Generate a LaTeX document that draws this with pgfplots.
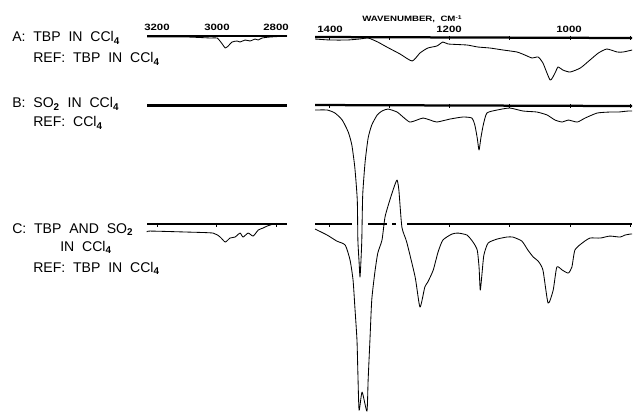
\documentclass[border=0pt]{standalone}
\usepackage{fontspec}
\setmainfont{Liberation Sans}[WordSpace=2]
\usepackage{pgfplots}
\pgfplotsset{compat=1.18}

% y is the pen position (rows, downwards); x is wavenumber in cm^-1
\pgfplotsset{spec/.style={scale only axis, axis lines=none, clip=false,
  x dir=reverse, y dir=reverse, ymin=0, ymax=413, height=10.325cm,
  anchor=north west}}
\tikzset{base/.style={black, line width=1.6pt},
  trace/.style={black, line width=0.6pt, smooth, tension=0.35, line join=round},
  tk/.style={black, only marks, mark=|, mark size=1.6pt, mark options={line width=0.6pt}}}
\newcommand\lbl{\fontsize{10}{12}\selectfont}
\newcommand\num{\fontsize{6.5}{7}\selectfont\bfseries\addfontfeature{FakeStretch=1.25}}

\begin{document}
\begin{tikzpicture}
\begin{scope}[x=0.025cm,y=-0.025cm]
\useasboundingbox (0,0) rectangle (637,413);
\end{scope}

% C-H stretching region
\begin{axis}[spec, at={(3.675cm,0cm)}, width=3.5cm, xmin=2763, xmax=3234]
\addplot[base] coordinates {(3234,36) (2763,36)};
\addplot[trace] coordinates {
(3234,37) (3100,37) (3020,38) (2998,38) (2981,44) (2971,48) (2961,46)
(2948,42) (2931,41) (2921,42) (2904,40) (2887,41) (2871,39) (2860,40)
(2847,38) (2820,37) (2763,36)};
\addplot[base] coordinates {(3234,105) (2763,105)};
\addplot[trace] coordinates {(3234,106) (2763,106)};
\addplot[black, line width=0.9pt] coordinates {(3234,224) (2763,224)};
\addplot[base] coordinates {(2810,224) (2763,224)};
\addplot[tk] coordinates {(3200,225) (3000,225) (2800,225)};
\addplot[trace] coordinates {
(3234,232) (3224,231) (3099,232) (3012,233) (2988,237) (2971,242)
(2955,238) (2938,237) (2921,233) (2911,237) (2894,233) (2877,236)
(2860,230) (2844,228) (2830,226) (2810,224)};
\end{axis}

% 1425-895 cm^-1 region
\begin{axis}[spec, at={(7.875cm,0cm)}, width=7.925cm, xmin=897, xmax=1423]
% A
\addplot[base] coordinates {(1423,37) (897,38)};
\addplot[tk] coordinates {(1400,38) (1300,38) (1200,38) (1100,38) (1000,38) (900,38)};
\addplot[trace] coordinates {
(1423,39) (1398,40) (1370,40) (1349,39) (1335,38) (1319,42) (1304,47)
(1282,54) (1262,61) (1249,53) (1236,48) (1221,46) (1211,42) (1202,44)
(1171,45) (1153,47) (1133,48) (1111,50) (1088,52) (1075,55) (1063,58)
(1053,57) (1045,63) (1033,80) (1025,73) (1020,67) (1012,70) (1000,72)
(983,68) (967,60) (953,53) (939,49) (922,52) (912,52) (897,50)};
% B
\addplot[base] coordinates {(1423,105) (897,106)};
\addplot[tk] coordinates {(1400,106) (1300,106) (1200,106) (1100,106) (1000,106) (900,106)};
\addplot[trace] coordinates {
(1423,110) (1403,110) (1390,113) (1378,120) (1368,132) (1362,145)
(1357,168) (1353,200) (1352,240) (1350,262) (1348.5,277) (1347,262)
(1345.5,240) (1344,195) (1340,162) (1335,138) (1329,125) (1320,115)
(1312,111) (1302,109) (1287,112) (1277,117) (1266,122) (1254,120)
(1244,118) (1232,120) (1221,122) (1199,119) (1178,117) (1163,118)
(1158,125) (1154,138) (1151,150) (1148,138) (1144,125) (1138,113)
(1121,110) (1100,108) (1078,111) (1055,112) (1038,115) (1025,120)
(1013,122) (1003,120) (988,122) (975,118) (955,113) (934,112)
(920,112) (904,111) (897,111)};
% C
\addplot[black, line width=1.1pt] coordinates {(1423,224) (1361,224)};
\addplot[black, line width=1.1pt] coordinates {(1335,224) (1303,224)};
\addplot[black, line width=1.1pt] coordinates {(1295,224) (1288,224)};
\addplot[black, line width=1.1pt] coordinates {(1270,224) (897,224)};
\addplot[tk] coordinates {(1400,225) (1200,225) (1100,225) (1000,225) (900,225)};
\addplot[trace] coordinates {
(1423,229) (1403,235) (1387,241) (1373,245) (1365,260) (1360,280)
(1357,307) (1353.5,340) (1352,373) (1350,410) (1345,392) (1337,411)
(1335,380) (1332,340) (1329,300) (1324,273) (1319,253) (1312,240)
(1307,217) (1299,200) (1292,187) (1287,180) (1284,190) (1279,227)
(1271,242) (1257,277) (1249,307) (1241,287) (1236,282) (1227,270)
(1219,252) (1211,240) (1196,234) (1186,233) (1171,235) (1161,242)
(1154,250) (1151,267) (1149,290) (1146,273) (1143,255) (1136,243)
(1121,239) (1105,237) (1095,237) (1080,241) (1070,250) (1061,257)
(1053,261) (1045,270) (1036.5,303) (1028,290) (1022,267) (1013,270)
(1003,273) (997,267) (992,250) (980,243) (967,238) (950,238)
(934,236) (917,237) (909,235) (900,234) (897,234)};
\end{axis}

\begin{scope}[x=0.025cm,y=-0.025cm]
\tikzset{every node/.style={inner sep=0pt}}
\node[anchor=base west] at (12,42) {\lbl A: TBP IN CCl\textsubscript{\textbf{4}}};
\node[anchor=base west] at (33,63) {\lbl REF: TBP IN CCl\textsubscript{\textbf{4}}};
\node[anchor=base west] at (12,108) {\lbl B: SO\textsubscript{\textbf{2}} IN CCl\textsubscript{\textbf{4}}};
\node[anchor=base west] at (33,127) {\lbl REF: CCl\textsubscript{\textbf{4}}};
\node[anchor=base west] at (12,233) {\lbl C: TBP AND SO\textsubscript{\textbf{2}}};
\node[anchor=base west] at (60,251) {\lbl IN CCl\textsubscript{\textbf{4}}};
\node[anchor=base west] at (33,272) {\lbl REF: TBP IN CCl\textsubscript{\textbf{4}}};
\node[anchor=base] at (157,31) {\num 3200};
\node[anchor=base] at (217,31) {\num 3000};
\node[anchor=base] at (276,31) {\num 2800};
\node[anchor=base] at (330,33) {\num 1400};
\node[anchor=base] at (449,33) {\num 1200};
\node[anchor=base] at (569,33) {\num 1000};
\node[anchor=base west] at (362,22) {\fontsize{5.5}{6}\selectfont\bfseries\addfontfeature{FakeStretch=1.25}WAVENUMBER, CM\textsuperscript{-1}};
\end{scope}
\end{tikzpicture}
\end{document}
